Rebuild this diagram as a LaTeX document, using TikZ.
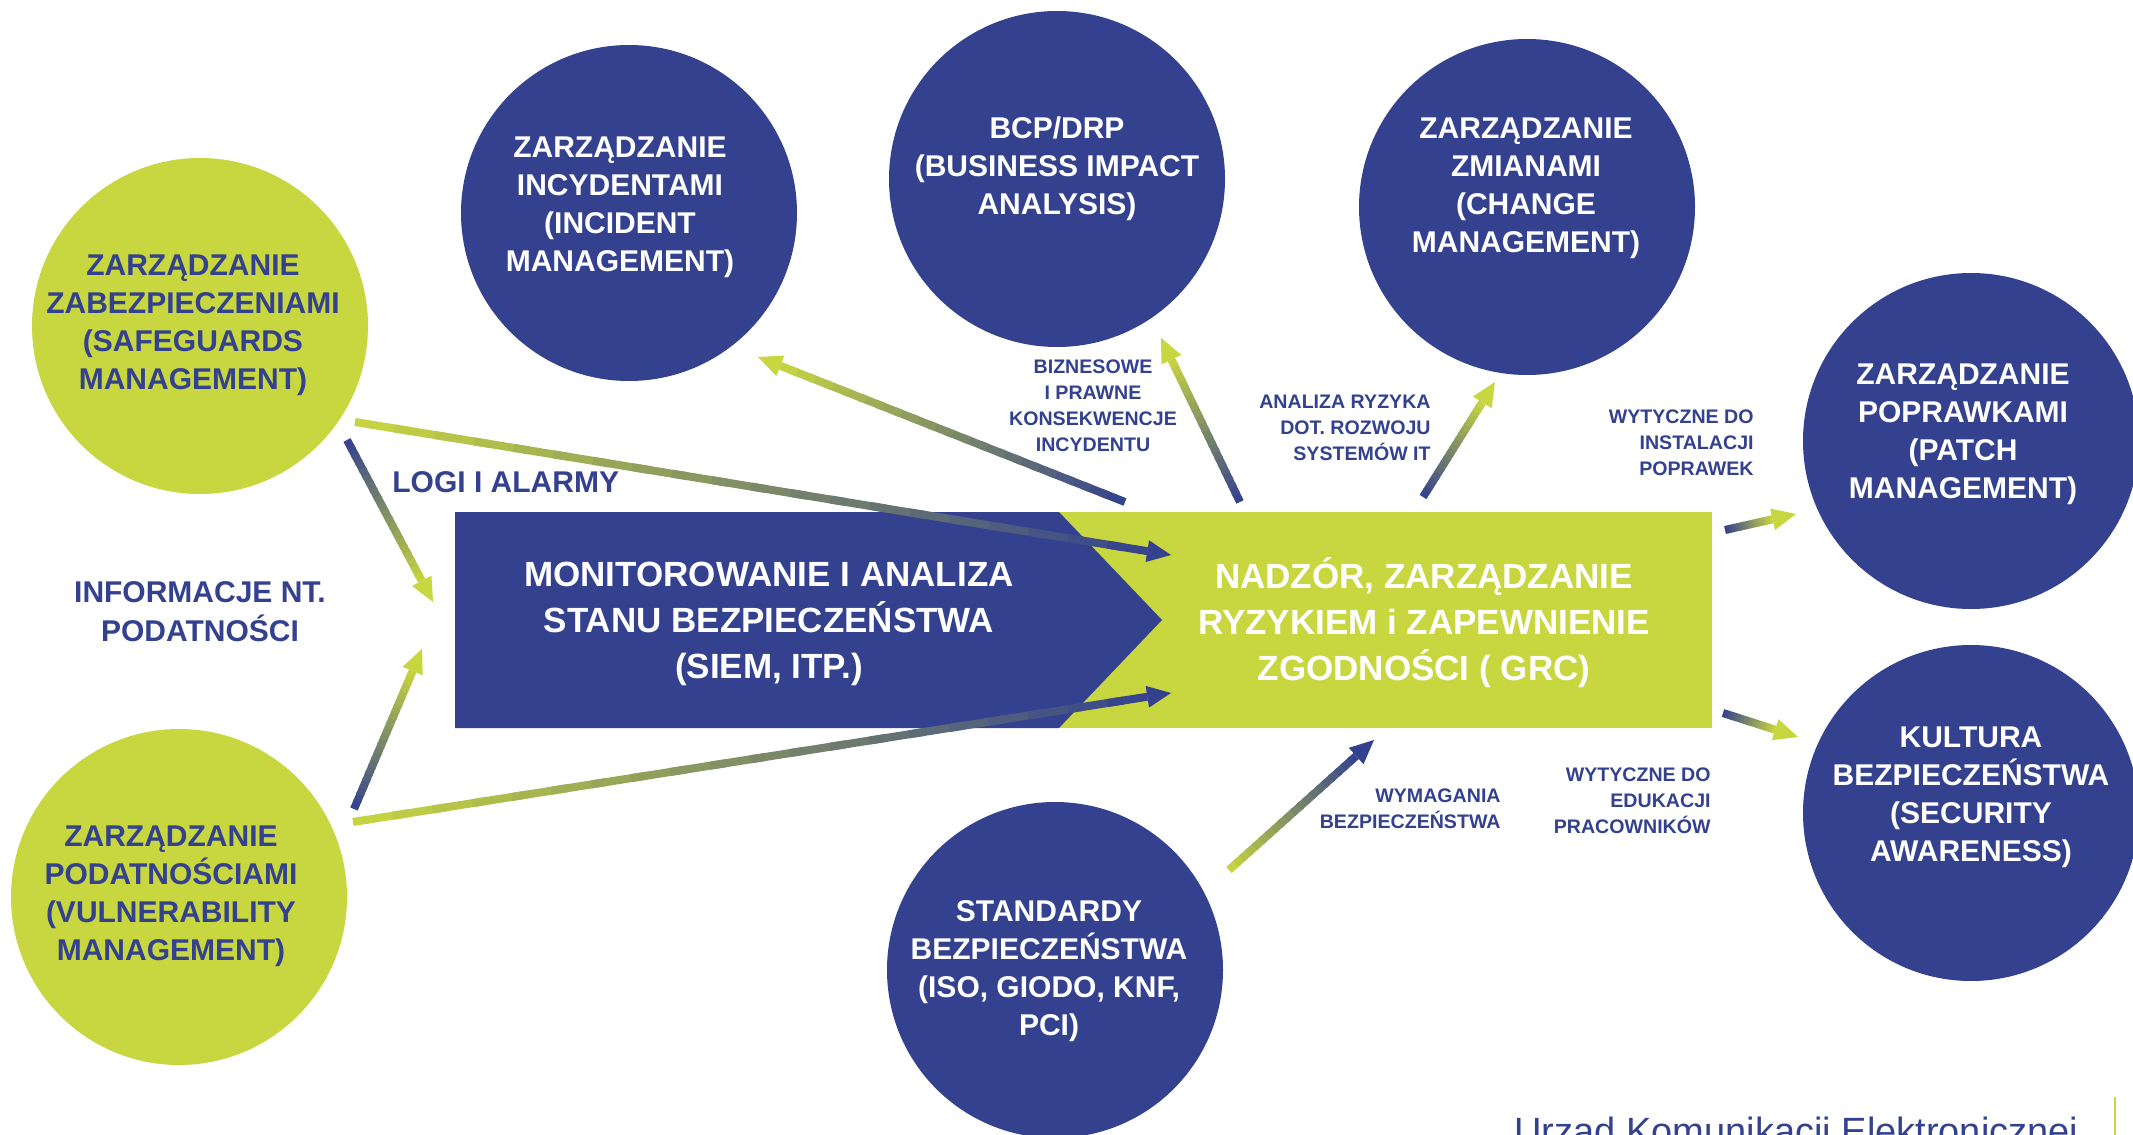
\documentclass[tikz,border=0pt]{standalone}
\usepackage{fontspec}
\setmainfont{Liberation Sans}
\usetikzlibrary{calc}

\definecolor{ukeblue}{RGB}{51,65,142}
\definecolor{ukegreen}{RGB}{200,214,64}

\tikzset{
  bigcircle/.style={circle, minimum size=168pt, inner sep=0pt},
  bluecircle/.style={bigcircle, fill=ukeblue},
  greencircle/.style={bigcircle, fill=ukegreen},
  circtext/.style={align=center, inner sep=0pt, font=\bfseries\fontsize{15}{19}\selectfont},
  boxtext/.style={align=center, inner sep=0pt, text=white, font=\bfseries\fontsize{17.5}{23}\selectfont},
  smalllabel/.style={inner sep=0pt, text=ukeblue, font=\bfseries\fontsize{9.8}{13}\selectfont},
  biglabel/.style={inner sep=0pt, text=ukeblue, font=\bfseries\fontsize{15}{19.5}\selectfont},
}

% shaded arrow: #1 start, #2 tip, #3 start colour, #4 tip colour
\newcommand{\gradarrow}[4]{%
  \coordinate (hb) at ($(#2)!12pt!(#1)$);
  \foreach \seg in {0,...,19}{
    \pgfmathtruncatemacro{\mixpc}{100*(\seg+0.5)/20}
    \pgfmathsetmacro{\fa}{\seg/20}
    \pgfmathsetmacro{\fb}{min(1,(\seg+1.4)/20)}
    \draw[line width=4pt, #4!\mixpc!#3] ($(#1)!\fa!(hb)$) -- ($(#1)!\fb!(hb)$);
  }
  \fill[#4] (#2) -- ($(hb)!5.5pt!90:(#2)$) -- ($(hb)!5.5pt!-90:(#2)$) -- cycle;
}

\begin{document}
\begin{tikzpicture}[x=0.5pt,y=-0.5pt]
    \useasboundingbox (0,0) rectangle (2133,1135);
    \fill[white] (0,0) rectangle (2133,1135);

    % circles
    \node[greencircle] (safeguards) at (200,326) {};
    \node[greencircle] (vulner) at (179,897) {};
    \node[bluecircle] (incident) at (629,213) {};
    \node[bluecircle] (bcp) at (1057,179) {};
    \node[bluecircle] (change) at (1527,207) {};
    \node[bluecircle] (patch) at (1971,441) {};
    \node[bluecircle] (awareness) at (1971,813) {};
    \node[bluecircle] (standards) at (1055,970) {};

    \node[circtext, text=ukeblue] (safeguards-txt) at (193,325) {ZARZĄDZANIE\\ZABEZPIECZENIAMI\\(SAFEGUARDS\\MANAGEMENT)};
    \node[circtext, text=ukeblue] (vulner-txt) at (171,896) {ZARZĄDZANIE\\PODATNOŚCIAMI\\(VULNERABILITY\\MANAGEMENT)};
    \node[circtext, text=white] (incident-txt) at (620,207) {ZARZĄDZANIE\\INCYDENTAMI\\(INCIDENT\\MANAGEMENT)};
    \node[circtext, text=white] (bcp-txt) at (1057,169) {BCP/DRP\\(BUSINESS IMPACT\\ANALYSIS)};
    \node[circtext, text=white] (change-txt) at (1526,188) {ZARZĄDZANIE\\ZMIANAMI\\(CHANGE\\MANAGEMENT)};
    \node[circtext, text=white] (patch-txt) at (1963,434) {ZARZĄDZANIE\\POPRAWKAMI\\(PATCH\\MANAGEMENT)};
    \node[circtext, text=white] (awareness-txt) at (1971,797) {KULTURA\\BEZPIECZEŃSTWA\\(SECURITY\\AWARENESS)};
    \node[circtext, text=white] (standards-txt) at (1049,971) {STANDARDY\\BEZPIECZEŃSTWA\\(ISO, GIODO, KNF,\\PCI)};

    % central boxes
    \fill[ukegreen] (1059,512) rectangle (1712,728);
    \fill[ukeblue] (455,512) -- (1059,512) -- (1162,620) -- (1059,728) -- (455,728) -- cycle;
    \node[boxtext] (monitor) at (769,624) {MONITOROWANIE I ANALIZA\\STANU BEZPIECZEŃSTWA\\(SIEM, ITP.)};
    \node[boxtext] (grc) at (1424,623) {NADZÓR, ZARZĄDZANIE\\RYZYKIEM i ZAPEWNIENIE\\ZGODNOŚCI ( GRC)};

    % labels
    \node[biglabel, anchor=base west] (logs) at (392,492) {LOGI I ALARMY};
    \node[biglabel, anchor=north, align=center] (vulninfo) at (200,581) {INFORMACJE NT.\\PODATNOŚCI};
    \node[smalllabel, anchor=north, align=center] (impact) at (1093,359) {BIZNESOWE\\I PRAWNE\\KONSEKWENCJE\\INCYDENTU};
    \node[smalllabel, anchor=north east, align=right] (riskdev) at (1431,395) {ANALIZA RYZYKA\\DOT. ROZWOJU\\SYSTEMÓW IT};
    \node[smalllabel, anchor=north east, align=right] (patchguide) at (1754,409) {WYTYCZNE DO\\INSTALACJI\\POPRAWEK};
    \node[smalllabel, anchor=north east, align=right] (secreq) at (1501,788) {WYMAGANIA\\BEZPIECZEŃSTWA};
    \node[smalllabel, anchor=north east, align=right] (eduguide) at (1711,767) {WYTYCZNE DO\\EDUKACJI\\PRACOWNIKÓW};

    % arrow ends
    \coordinate (sg-out1) at (347,440);
    \coordinate (mon-in1) at (433,602);
    \coordinate (vu-out1) at (354,809);
    \coordinate (mon-in2) at (422,649);
    \coordinate (sg-out2) at (355,422);
    \coordinate (grc-in1) at (1171,555);
    \coordinate (vu-out2) at (353,822);
    \coordinate (grc-in2) at (1171,693);
    \coordinate (grc-out1) at (1125,502);
    \coordinate (inc-in) at (758,357);
    \coordinate (grc-out2) at (1240,502);
    \coordinate (bcp-in) at (1161,338);
    \coordinate (grc-out3) at (1423,497);
    \coordinate (chg-in) at (1495,382);
    \coordinate (grc-out4) at (1725,530);
    \coordinate (pat-in) at (1796,514);
    \coordinate (grc-out5) at (1723,713);
    \coordinate (awa-in) at (1798,737);
    \coordinate (std-out) at (1229,870);
    \coordinate (grc-in3) at (1374,740);

    \gradarrow{sg-out1}{mon-in1}{ukeblue}{ukegreen}
    \gradarrow{vu-out1}{mon-in2}{ukeblue}{ukegreen}
    \gradarrow{sg-out2}{grc-in1}{ukegreen}{ukeblue}
    \gradarrow{vu-out2}{grc-in2}{ukegreen}{ukeblue}
    \gradarrow{grc-out1}{inc-in}{ukeblue}{ukegreen}
    \gradarrow{grc-out2}{bcp-in}{ukeblue}{ukegreen}
    \gradarrow{grc-out3}{chg-in}{ukeblue}{ukegreen}
    \gradarrow{grc-out4}{pat-in}{ukeblue}{ukegreen}
    \gradarrow{grc-out5}{awa-in}{ukeblue}{ukegreen}
    \gradarrow{std-out}{grc-in3}{ukegreen}{ukeblue}

    % footer
    \node[anchor=north west, inner sep=0pt, text=ukeblue, font=\fontsize{19}{19}\selectfont] (uke) at (1514,1117) {Urząd Komunikacji Elektronicznej};
    \draw[ukegreen, line width=1.2pt] (2115,1097) -- (2115,1135);
\end{tikzpicture}
\end{document}
